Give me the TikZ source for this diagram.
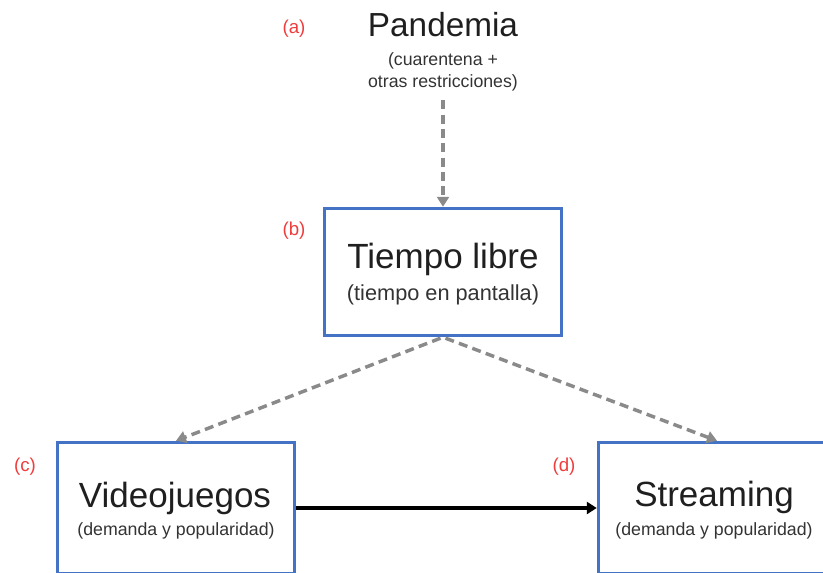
\documentclass[tikz,border=0pt]{standalone}
\usepackage{fontspec}
\setmainfont{Liberation Sans}
\usetikzlibrary{arrows.meta}
\definecolor{boxblue}{HTML}{4472C4}
\definecolor{linkgray}{HTML}{8A8A8A}
\definecolor{tagred}{HTML}{F03C3C}

\begin{document}
\begin{tikzpicture}[
    x=.75pt,
    y=-.75pt,
    box/.style={
      draw=boxblue,
      line width=2.6pt,
      inner sep=0,
      minimum width=177.75pt,
      minimum height=95.25pt,
    },
    title/.style={
      anchor=base,
      inner sep=0,
      text=black!88,
      font=\fontsize{26.25}{30}\selectfont,
    },
    subtitle/.style={
      anchor=base,
      inner sep=0,
      text=black!80,
      font=\fontsize{13.3}{16.5}\selectfont,
    },
    tagtext/.style={
      anchor=base,
      inner sep=0,
      text=tagred,
      font=\fontsize{14}{16}\selectfont,
    },
    link/.style={
      line width=2.6pt,
      color=linkgray,
      dash pattern=on 6.75pt off 4pt,
      -{Triangle[length=7.5pt,width=9pt]},
    },
    causal/.style={
      line width=2.6pt,
      color=black,
      -{Triangle[length=7.5pt,width=9pt]},
    },
  ]
    \newcommand\tagletter[3]{%
      \node[tagtext] (tag#1) at (#2, #3) {(#1)};
    }

    \useasboundingbox (0, 0) rectangle (823, 573);
    \clip (0, 0) rectangle (823, 573);

    % boxes
    \node[box] (free) at (443, 272) {};
    \node[box,minimum height=98.25pt] (games) at (176, 508) {};
    \node[box,minimum height=98.25pt] (stream) at (717, 508) {};

    % texts
    \node[title,font=\fontsize{25}{30}\selectfont] (pand) at (443, 37) {Pandemia};
    \node[subtitle,align=center,anchor=north,inner ysep=2pt] (pandsub) at (443, 50)
      {(cuarentena +\\otras restricciones)};

    \node[title] (freetitle) at (443, 268) {Tiempo libre};
    \node[subtitle,font=\fontsize{16.3}{19}\selectfont] (freesub) at (443, 300)
      {(tiempo en pantalla)};

    \node[title] (gamestitle) at (175, 507) {Videojuegos};
    \node[subtitle] (gamessub) at (176, 535) {(demanda y popularidad)};

    \node[title] (streamtitle) at (714, 506) {Streaming};
    \node[subtitle] (streamsub) at (714, 535) {(demanda y popularidad)};

    \tagletter{a}{294}{34}
    \tagletter{b}{294}{236}
    \tagletter{c}{25}{471}
    \tagletter{d}{564}{471}

    % links
    \draw[link,shorten <=4.5pt] (pandsub.south) -- (free.north);
    \draw[link,shorten <=2pt] (free.south) -- (games.north);
    \draw[link,shorten <=2pt] (free.south) -- (stream.north);
    \draw[causal] (games.east) -- (stream.west);
  \end{tikzpicture}
\end{document}
